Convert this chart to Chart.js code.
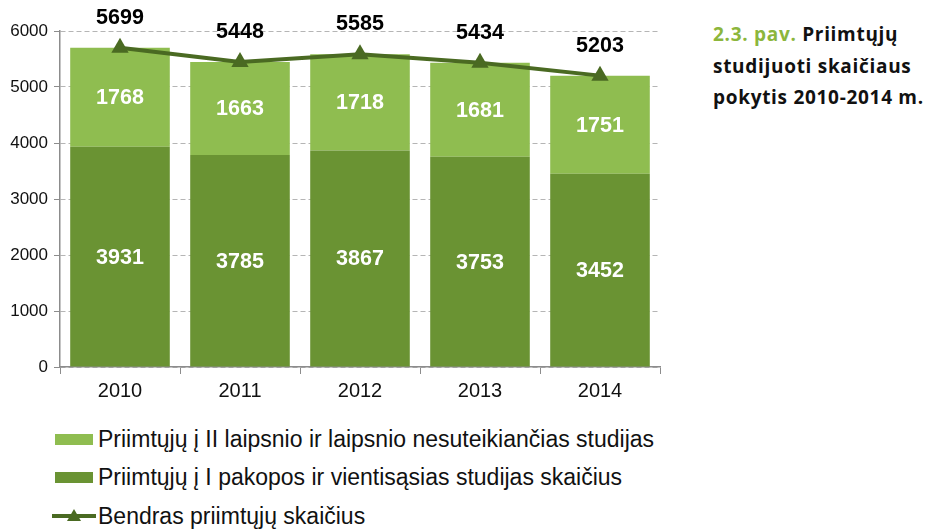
<!DOCTYPE html>
<html><head><meta charset="utf-8">
<script src="https://cdn.jsdelivr.net/npm/chart.js@4"></script>
<style>
html,body{margin:0;padding:0;background:#fff;}
body{width:934px;height:530px;position:relative;overflow:hidden;font-family:"Liberation Sans",Arial,sans-serif;}
#wrap{position:absolute;left:0;top:0;width:670px;height:410px;}
#title{position:absolute;left:713px;top:19px;font-family:"Open Sans",sans-serif;font-weight:700;font-size:19px;letter-spacing:0.7px;line-height:31.5px;color:#111;}
#title .g{color:#8cb63c;}
#legend{position:absolute;left:52px;top:420px;font-size:23px;color:#111;}
.row{height:38.5px;display:flex;align-items:center;white-space:nowrap;}
.sw{width:38px;height:11px;margin:0 5px 0 3px;}
</style></head>
<body>
<div id="wrap"><canvas id="c" width="670" height="410"></canvas></div>
<div id="title"><span class="g">2.3. pav.</span> Priimtųjų<br>studijuoti skaičiaus<br>pokytis 2010-2014 m.</div>
<div id="legend"></div>
<script>
const years = ["2010","2011","2012","2013","2014"];
const firstCycle = [3931,3785,3867,3753,3452];
const secondCycle = [1768,1663,1718,1681,1751];
const totals = [5699,5448,5585,5434,5203];
const seriesNames = [
  "Priimtųjų į II laipsnio ir laipsnio nesuteikiančias studijas",
  "Priimtųjų į I pakopos ir vientisąsias studijas skaičius",
  "Bendras priimtųjų skaičius"
];
const yTicks = [0,1000,2000,3000,4000,5000,6000];

const LIGHT = "#8fbd50", DARK = "#6a9333", LINE = "#4a6a22";

const labelPlugin = {
  id: "labels",
  afterDatasetsDraw(chart) {
    const ctx = chart.ctx;
    ctx.save();
    ctx.textAlign = "center";
    ctx.textBaseline = "middle";
    chart.data.datasets.forEach((ds, di) => {
      const meta = chart.getDatasetMeta(di);
      meta.data.forEach((el, i) => {
        const v = ds.data[i];
        ctx.font = "bold 21.5px 'Liberation Sans', Arial, sans-serif";
        if (ds.type === "line") {
          ctx.fillStyle = "#000";
          ctx.fillText(String(v), el.x, el.y - 30);
        } else {
          ctx.fillStyle = "#fff";
          ctx.fillText(String(v), el.x, (el.y + el.base) / 2 + 1);
        }
      });
    });
    ctx.restore();
  }
};

new Chart(document.getElementById("c"), {
  data: {
    labels: years,
    datasets: [
      { type: "line", label: seriesNames[2], data: totals, borderColor: LINE, backgroundColor: LINE,
        borderWidth: 4, pointStyle: "triangle", pointRadius: 10, pointHoverRadius: 10, pointBorderWidth: 0, order: 0 },
      { type: "bar", label: seriesNames[1], data: firstCycle, backgroundColor: DARK, stack: "s", order: 1,
        barPercentage: 0.83, categoryPercentage: 1 },
      { type: "bar", label: seriesNames[0], data: secondCycle, backgroundColor: LIGHT, stack: "s", order: 2,
        barPercentage: 0.83, categoryPercentage: 1 }
    ]
  },
  options: {
    responsive: false, animation: false, devicePixelRatio: 1,
    layout: { padding: { top: 31, right: 9, left: 0, bottom: 0 } },
    plugins: { legend: { display: false }, tooltip: { enabled: false } },
    scales: {
      x: {
        stacked: true,
        grid: { display: true, drawOnChartArea: false, drawTicks: true, tickLength: 7, offset: true, color: "#8c8c8c", tickColor: "#8c8c8c" },
        border: { color: "#8c8c8c", width: 1.5 },
        ticks: { color: "#111", font: { size: 20, family: "'Liberation Sans', Arial" }, padding: 5 },
        afterFit(s) { s.height = 43; }
      },
      y: {
        stacked: true, min: 0, max: 6000,
        afterBuildTicks(s) { s.ticks = yTicks.map(v => ({ value: v })); },
        grid: { color: "#b5b5b5", tickLength: 6, tickColor: "#8c8c8c", lineWidth: 1 },
        border: { color: "#8c8c8c", width: 1.5, dash: [5, 3] },
        ticks: { color: "#111", font: { size: 17, family: "'Liberation Sans', Arial" }, padding: 6,
                 callback: v => String(v) },
        afterFit(s) { s.width = 60; }
      }
    }
  },
  plugins: [labelPlugin]
});

// HTML legend
const lg = document.getElementById("legend");
const sw = [LIGHT, DARK];
seriesNames.forEach((n, i) => {
  const r = document.createElement("div"); r.className = "row";
  if (i < 2) {
    const s = document.createElement("div"); s.className = "sw"; s.style.background = sw[i]; r.appendChild(s);
  } else {
    const s = document.createElement("canvas"); s.width = 44; s.height = 16; s.style.marginRight = "2px";
    const x = s.getContext("2d");
    x.strokeStyle = LINE; x.lineWidth = 4; x.beginPath(); x.moveTo(0, 8); x.lineTo(44, 8); x.stroke();
    x.fillStyle = LINE; x.beginPath(); x.moveTo(22, 1); x.lineTo(29, 13); x.lineTo(15, 13); x.closePath(); x.fill();
    r.appendChild(s);
  }
  const t = document.createElement("span"); t.textContent = n; r.appendChild(t);
  lg.appendChild(r);
});
</script>
</body></html>
